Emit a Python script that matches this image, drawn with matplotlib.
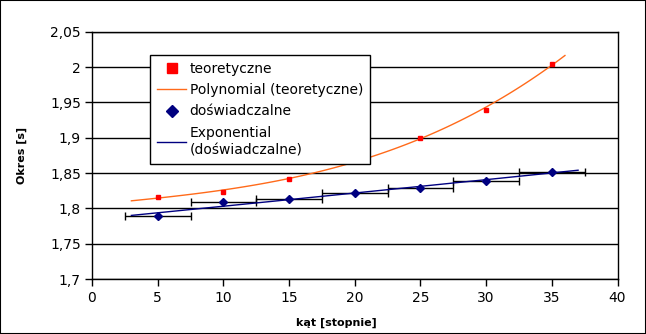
import matplotlib
matplotlib.use("Agg")
import matplotlib.pyplot as plt
import numpy as np
from matplotlib.lines import Line2D
from matplotlib.patches import Rectangle

# data
angles = [5, 10, 15, 20, 25, 30, 35]
t_theory = [1.8156, 1.8237, 1.842, 1.868, 1.900, 1.9397, 2.004]
t_measured = [1.789, 1.8087, 1.8133, 1.8223, 1.8293, 1.8384, 1.8516]
angle_err = 2.5
y_ticks = [1.7, 1.75, 1.8, 1.85, 1.9, 1.95, 2.0, 2.05]
x_ticks = [0, 5, 10, 15, 20, 25, 30, 35, 40]

NAVY = "#000080"
ORANGE = "#ff6a1a"

plt.rcParams["font.family"] = ["DejaVu Sans"]

fig = plt.figure(figsize=(6.46, 3.34), dpi=100)
ax = fig.add_axes([92 / 646, 1 - 279 / 334, (617.5 - 92) / 646, (279 - 31.7) / 334])

# trend lines (fitted like the spreadsheet does)
x = np.array(angles, dtype=float)
poly = np.polyfit(x, t_theory, 3)
xp = np.linspace(3, 36, 100)
ax.plot(xp, np.polyval(poly, xp), color=ORANGE, lw=1, zorder=3)

b, a = np.polyfit(x, np.log(t_measured), 1)
xe = np.linspace(3, 37, 100)
ax.plot(xe, np.exp(a + b * xe), color=NAVY, lw=1, zorder=3)

ax.errorbar(angles, t_measured, xerr=angle_err, fmt="none", ecolor="black",
            elinewidth=1, capsize=3, capthick=1, zorder=2)
ax.plot(angles, t_theory, ls="none", marker="s", ms=3.2, color="red", mec="red", zorder=4)
ax.plot(angles, t_measured, ls="none", marker="D", ms=4.5, color=NAVY, mec=NAVY, zorder=4)

ax.set_xlim(0, 40)
ax.set_ylim(1.7, 2.05)
ax.set_xticks(x_ticks)
ax.set_yticks(y_ticks)
ax.set_yticklabels([f"{round(v, 2):g}".replace(".", ",") for v in y_ticks])
ax.tick_params(labelsize=10, colors="black", direction="out", length=5, width=1)
ax.tick_params(axis="x", pad=4)
ax.tick_params(axis="y", pad=3)
ax.grid(axis="y", color="black", lw=1)
ax.set_axisbelow(True)
for s in ax.spines.values():
    s.set_color("black")
    s.set_linewidth(1)

fig.text(336 / 646, 1 - 323 / 334, "kąt [stopnie]", fontsize=8, fontweight="bold",
         ha="center", va="center")
fig.text(22 / 646, 1 - 155 / 334, "Okres [s]", fontsize=8, fontweight="bold",
         ha="center", va="center", rotation=90)

handles = [
    Line2D([], [], ls="none", marker="s", ms=7, color="red"),
    Line2D([], [], color=ORANGE, lw=1),
    Line2D([], [], ls="none", marker="D", ms=6, color=NAVY),
    Line2D([], [], color=NAVY, lw=1),
]
labels = ["teoretyczne", "Polynomial (teoretyczne)", "doświadczalne",
          "Exponential\n(doświadczalne)"]
leg = ax.legend(handles, labels, loc="upper left", fontsize=10,
                bbox_to_anchor=((150 - 92) / (617.5 - 92), 1 - (55 - 31.7) / (279 - 31.7)),
                borderaxespad=0, fancybox=False, framealpha=1, edgecolor="black",
                handlelength=2.1, handletextpad=0.25, labelspacing=0.52,
                borderpad=0.5)
leg.get_frame().set_linewidth(1)
leg.get_texts()[3].set_linespacing(1.35)
leg.set_zorder(10)

fig.patches.append(Rectangle((0, 0), 1, 1, transform=fig.transFigure, fill=False,
                             edgecolor="black", lw=1.5))

fig.savefig("out.png", dpi=100)
